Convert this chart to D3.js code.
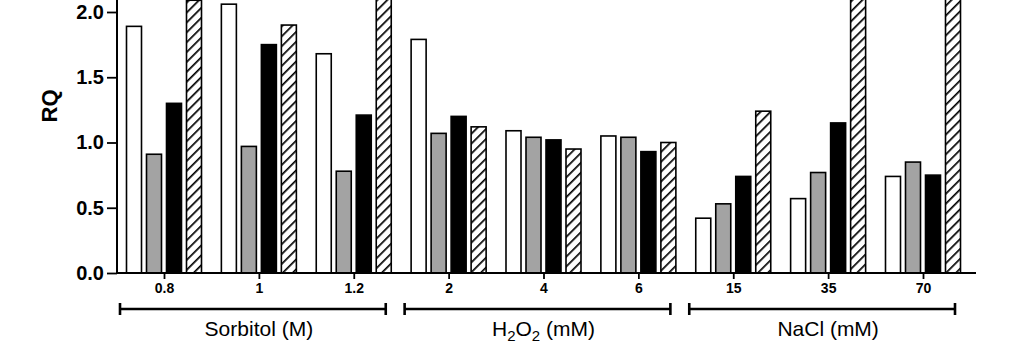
<script src="https://d3js.org/d3.v7.min.js"></script>
<style>
  body { margin: 0; background: white; }
</style>
<body>
<script>
  // data
  const groups = ["0.8", "1", "1.2", "2", "4", "6", "15", "35", "70"];
  const seriesNames = ["s1", "s2", "s3", "s4"];
  const s1 = [1.89, 2.06, 1.68, 1.79, 1.09, 1.05, 0.42, 0.57, 0.74];
  const s2 = [0.91, 0.97, 0.78, 1.07, 1.04, 1.04, 0.53, 0.77, 0.85];
  const s3 = [1.30, 1.75, 1.21, 1.20, 1.02, 0.93, 0.74, 1.15, 0.75];
  const s4 = [2.09, 1.90, 2.40, 1.12, 0.95, 1.00, 1.24, 2.40, 2.40];
  const yTicks = [0, 0.5, 1.0, 1.5, 2.0];
  const treatments = [
    { name: "Sorbitol (M)", from: 0, to: 2 },
    { name: "H2O2 (mM)", from: 3, to: 5 },
    { name: "NaCl (mM)", from: 6, to: 8 }
  ];

  const seriesVals = [s1, s2, s3, s4];
  const fills = ["#ffffff", "#a3a3a3", "#000000", "url(#hatch)"];
  const font = "Liberation Sans, Arial, sans-serif";

  const svg = d3.select("body")
    .append("svg")
    .attr("width", 1024)
    .attr("height", 362)
    .style("font-family", font);

  // hatch pattern
  const pat = svg.append("defs")
    .append("pattern")
    .attr("id", "hatch")
    .attr("patternUnits", "userSpaceOnUse")
    .attr("width", 7)
    .attr("height", 7)
    .attr("patternTransform", "rotate(45)");
  pat.append("rect")
    .attr("width", 7).attr("height", 7).attr("fill", "white");
  pat.append("line")
    .attr("x1", 0).attr("y1", 0).attr("x2", 0).attr("y2", 7)
    .attr("stroke", "black").attr("stroke-width", 3.4);

  const y0 = 273;
  const y = d3.scaleLinear()
    .domain([0, 2.5])
    .range([y0, y0 - 2.5 * 130.5]);

  const x = d3.scalePoint()
    .domain(groups)
    .range([164, 923]);

  const xs = d3.scaleBand()
    .domain(seriesNames)
    .range([-40, 40])
    .paddingInner(0.25)
    .paddingOuter(0.125);

  // bars
  groups.forEach((g, i) => {
    seriesNames.forEach((s, j) => {
      const v = seriesVals[j][i];
      svg.append("rect")
        .attr("x", x(g) + xs(s))
        .attr("y", y(v))
        .attr("width", xs.bandwidth())
        .attr("height", y(0) - y(v))
        .attr("fill", fills[j])
        .attr("stroke", "black")
        .attr("stroke-width", 1.6);
    });
  });

  // y axis
  const yAxis = d3.axisLeft(y)
    .tickValues(yTicks)
    .tickFormat(d3.format(".1f"))
    .tickSize(10)
    .tickPadding(3);
  const gy = svg.append("g")
    .attr("transform", "translate(117,0)")
    .call(yAxis);
  gy.select(".domain").remove();
  gy.selectAll(".tick line").attr("stroke-width", 1.8);
  gy.selectAll(".tick text")
    .attr("font-size", 20)
    .attr("font-weight", 700)
    .attr("font-family", font)
    .attr("fill", "black");
  svg.append("line")
    .attr("x1", 117).attr("x2", 117)
    .attr("y1", y0 + 1).attr("y2", 0)
    .attr("stroke", "black").attr("stroke-width", 2);

  // x axis
  const xAxis = d3.axisBottom(x)
    .tickSize(6)
    .tickPadding(4);
  const gx = svg.append("g")
    .attr("transform", `translate(0,${y0})`)
    .call(xAxis);
  gx.select(".domain").remove();
  gx.selectAll(".tick line").attr("stroke-width", 1.8);
  gx.selectAll(".tick text")
    .attr("font-size", 14)
    .attr("font-weight", 700)
    .attr("font-family", font)
    .attr("fill", "black");
  svg.append("line")
    .attr("x1", 116).attr("x2", 976)
    .attr("y1", y0).attr("y2", y0)
    .attr("stroke", "black").attr("stroke-width", 2);

  // y label
  svg.append("text")
    .attr("transform", "translate(57,106) rotate(-90)")
    .attr("text-anchor", "middle")
    .attr("font-size", 22)
    .attr("font-weight", 700)
    .text("RQ");

  // treatment brackets
  const by = 309;
  treatments.forEach(t => {
    const a = x(groups[t.from]) - 44;
    const b = x(groups[t.to]) + 32;
    const br = svg.append("g")
      .attr("stroke", "black")
      .attr("stroke-width", 2.6);
    br.append("line").attr("x1", a).attr("x2", b).attr("y1", by).attr("y2", by);
    br.append("line").attr("x1", a).attr("x2", a).attr("y1", by - 6).attr("y2", by + 6);
    br.append("line").attr("x1", b).attr("x2", b).attr("y1", by - 6).attr("y2", by + 6);

    const cx = x(groups[t.from + 1]);
    const txt = svg.append("text")
      .attr("x", cx)
      .attr("y", 336)
      .attr("text-anchor", "middle")
      .attr("font-size", 21);
    if (t.name.startsWith("H2O2")) {
      txt.append("tspan").text("H");
      txt.append("tspan").attr("font-size", 15).attr("dy", 5).text("2");
      txt.append("tspan").attr("dy", -5).text("O");
      txt.append("tspan").attr("font-size", 15).attr("dy", 5).text("2");
      txt.append("tspan").attr("dy", -5).text(" (mM)");
    } else {
      txt.text(t.name);
    }
  });
</script>
</body>
